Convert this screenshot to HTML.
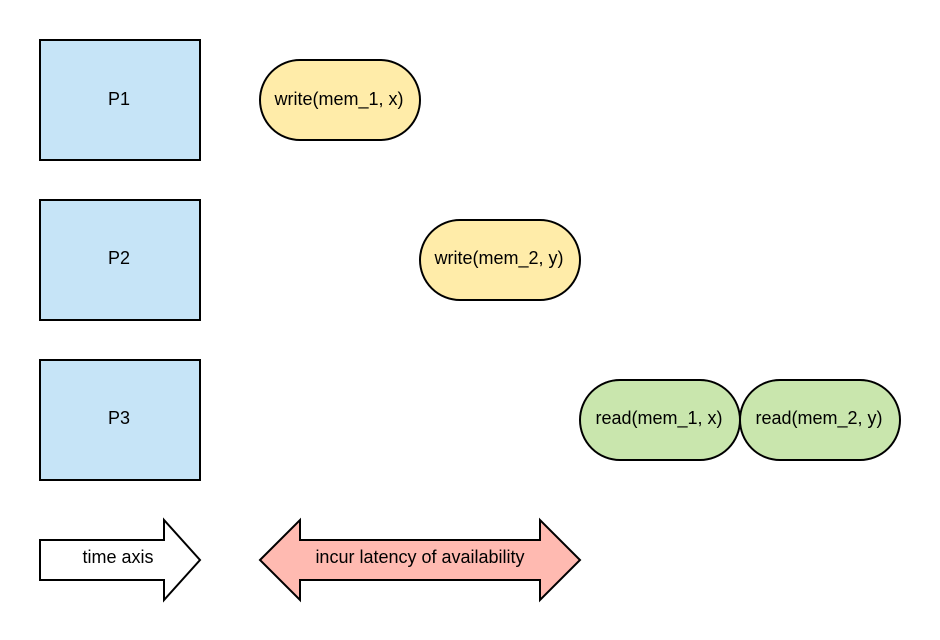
<!DOCTYPE html>
<html><head><meta charset="utf-8"><style>
html,body{margin:0;padding:0;background:#fff;}
svg{display:block;}
text{font-family:"Liberation Sans",Arial,sans-serif;font-size:18px;fill:#000;}
</style></head><body>
<svg width="940" height="640" viewBox="0 0 940 640" xmlns="http://www.w3.org/2000/svg">
<g stroke="#000" stroke-width="2">
<rect x="40" y="40" width="160" height="120" fill="#c6e4f7"/>
<rect x="40" y="200" width="160" height="120" fill="#c6e4f7"/>
<rect x="40" y="360" width="160" height="120" fill="#c6e4f7"/>
<rect x="260" y="60" width="160" height="80" rx="40" fill="#ffeca9"/>
<rect x="420" y="220" width="160" height="80" rx="40" fill="#ffeca9"/>
<rect x="580" y="380" width="160" height="80" rx="40" fill="#c9e6ad"/>
<rect x="740" y="380" width="160" height="80" rx="40" fill="#c9e6ad"/>
<polygon points="40,540 164,540 164,520 200,560 164,600 164,580 40,580" fill="#fff"/>
<polygon points="260,560 300,520 300,540 540,540 540,520 580,560 540,600 540,580 300,580 300,600" fill="#ffbab1"/>
</g>
<g text-anchor="middle">
<text x="119" y="105">P1</text>
<text x="119" y="264">P2</text>
<text x="119" y="424">P3</text>
<text x="339" y="105">write(mem_1, x)</text>
<text x="499" y="264">write(mem_2, y)</text>
<text x="659" y="424">read(mem_1, x)</text>
<text x="819" y="424">read(mem_2, y)</text>
<text x="118" y="563">time axis</text>
<text x="420" y="563">incur latency of availability</text>
</g>
</svg>
</body></html>
